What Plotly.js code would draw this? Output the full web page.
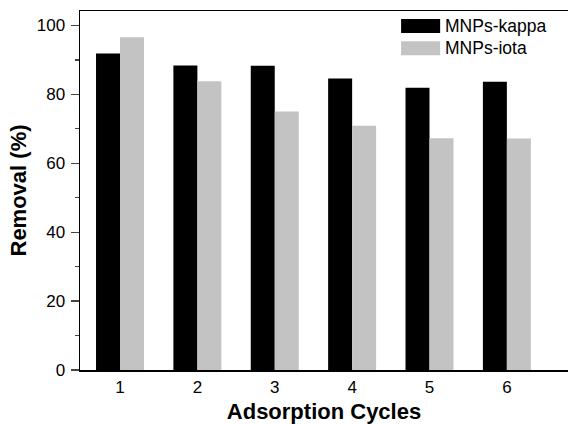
<!DOCTYPE html>
<html>
<head>
<meta charset="utf-8">
<script src="https://cdn.plot.ly/plotly-3.0.1.min.js"></script>
<style>html,body{margin:0;padding:0;background:#fff;}#chart{width:568px;height:424px;}</style>
</head>
<body>
<div id="chart"></div>
<script>
const cycles = [1, 2, 3, 4, 5, 6];
const kappa = [91.9, 88.4, 88.3, 84.6, 81.9, 83.7];
const iota = [96.6, 83.8, 75.0, 70.9, 67.3, 67.2];
const tickVals = [1, 2, 3, 4, 5, 6];
const tickText = ['1', '2', '3', '4', '5', '6'];
const seriesNames = ['MNPs-kappa', 'MNPs-iota'];
const seriesColors = ['#000000', '#c3c3c3'];

const data = [
  {type: 'bar', x: cycles, y: kappa, name: seriesNames[0], marker: {color: seriesColors[0]}},
  {type: 'bar', x: cycles, y: iota, name: seriesNames[1], marker: {color: seriesColors[1]}}
];

// custom legend (large swatches like the original)
const legY = [[0.939, 0.978], [0.877, 0.916]];
const shapes = legY.map((yy, i) => ({
  type: 'rect', xref: 'paper', yref: 'paper', x0: 0.658, x1: 0.738, y0: yy[0], y1: yy[1],
  fillcolor: seriesColors[i], line: {width: 0}
}));
const annotations = legY.map((yy, i) => ({
  xref: 'paper', yref: 'paper', x: 0.743, y: (yy[0] + yy[1]) / 2, xanchor: 'left', yanchor: 'middle',
  text: seriesNames[i], showarrow: false, font: {size: 17.5, color: '#000'}
}));

const layout = {
  width: 568, height: 424,
  margin: {l: 80, r: 0, t: 11, b: 54},
  paper_bgcolor: '#ffffff', plot_bgcolor: '#ffffff',
  font: {family: 'Liberation Sans, Arial, sans-serif', color: '#000', size: 17},
  barmode: 'group', bargap: 0.38, bargroupgap: 0,
  showlegend: false,
  shapes: shapes,
  annotations: annotations,
  xaxis: {
    range: [0.483, 6.79], tickvals: tickVals, ticktext: tickText,
    showgrid: false, zeroline: false, showline: true, mirror: true,
    linecolor: '#000', linewidth: 1.5, ticks: '', ticklabelstandoff: 1,
    title: {text: '<b>Adsorption Cycles</b>', font: {size: 22}, standoff: 8}
  },
  yaxis: {
    range: [0, 104.2], tickvals: [0, 20, 40, 60, 80, 100],
    showgrid: false, zeroline: false, showline: true,
    linecolor: '#000', linewidth: 1.5, ticks: 'outside', ticklen: 8, tickwidth: 1.2,
    ticklabelstandoff: 2,
    minor: {dtick: 10, ticks: 'outside', ticklen: 4, tickwidth: 1.2, showgrid: false},
    title: {text: '<b>Removal (%)</b>', font: {size: 22}, standoff: 4}
  }
};

Plotly.newPlot('chart', data, layout, {displayModeBar: false, staticPlot: true});
</script>
</body>
</html>
